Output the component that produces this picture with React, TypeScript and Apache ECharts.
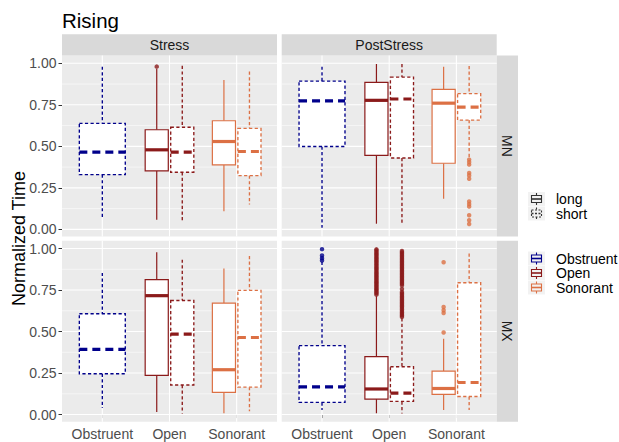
import React, { useEffect, useRef } from 'react';
import * as echarts from 'echarts';

// ---------- data ----------
const categories = ['Obstruent', 'Open', 'Sonorant'];
const lengths = ['long', 'short'];
const stressLevels = ['Stress', 'PostStress'];
const tones = ['MN', 'MX'];
const yTicks = [0, 0.25, 0.5, 0.75, 1];
const yMinorTicks = [0.125, 0.375, 0.625, 0.875];
const xTicks = [1, 2, 3];

// [lower whisker, Q1, median, Q3, upper whisker] per category; null = no box
const stressMNLong = [null, [0.058, 0.352, 0.479, 0.6, 0.965], [0.109, 0.388, 0.529, 0.654, 0.9]];
const stressMNShort = [[0.068, 0.33, 0.465, 0.638, 0.98], [0.04, 0.344, 0.465, 0.615, 0.985], [0.149, 0.324, 0.469, 0.608, 0.95]];
const postMNLong = [null, [0.034, 0.445, 0.777, 0.885, 0.996], [0.185, 0.398, 0.76, 0.843, 0.98]];
const postMNShort = [[0.01, 0.499, 0.774, 0.893, 0.98], [0.028, 0.43, 0.785, 0.917, 0.996], [0.43, 0.658, 0.736, 0.817, 0.984]];
const stressMXLong = [null, [0.016, 0.236, 0.716, 0.813, 0.978], [0.008, 0.133, 0.27, 0.671, 0.879]];
const stressMXShort = [[0.039, 0.246, 0.393, 0.607, 0.853], [0.006, 0.178, 0.484, 0.687, 0.933], [0.02, 0.165, 0.464, 0.748, 0.955]];
const postMXLong = [null, [0.008, 0.093, 0.154, 0.349, 0.713], [0.028, 0.121, 0.157, 0.262, 0.456]];
const postMXShort = [[0.027, 0.073, 0.167, 0.415, 0.92], [0.006, 0.079, 0.129, 0.288, 0.58], [0.027, 0.109, 0.193, 0.794, 0.97]];

// outliers per category
const stressMNLongOut = [[], [0.98], []];
const stressMNShortOut = [[], [], []];
const postMNLongOut = [[], [], []];
const postMNShortOut = [[], [], [0.42, 0.405, 0.39, 0.34, 0.325, 0.305, 0.168, 0.152, 0.138, 0.085, 0.055, 0.032]];
const stressMXLongOut = [[], [], []];
const stressMXShortOut = [[], [], []];
const postMXLongOut = [
  [],
  [0.722, 0.731, 0.738, 0.747, 0.755, 0.762, 0.771, 0.779, 0.788, 0.795, 0.803, 0.812, 0.82, 0.829, 0.836, 0.845,
    0.853, 0.861, 0.87, 0.878, 0.886, 0.895, 0.903, 0.911, 0.92, 0.928, 0.937, 0.945, 0.953, 0.962, 0.97, 0.979, 0.988, 0.995],
  [0.494, 0.612, 0.628, 0.648, 0.917],
];
const postMXShortOut = [
  [0.928, 0.942, 0.958, 0.996],
  [0.588, 0.597, 0.606, 0.614, 0.623, 0.632, 0.641, 0.65, 0.658, 0.667, 0.676, 0.685, 0.694, 0.703, 0.712, 0.721, 0.73, 0.738,
    0.756, 0.779, 0.788, 0.797, 0.806, 0.815, 0.824, 0.833, 0.842, 0.851, 0.86, 0.869, 0.878, 0.887, 0.896, 0.905, 0.914,
    0.923, 0.932, 0.941, 0.95, 0.959, 0.968, 0.977, 0.985],
  [],
];

// ---------- styling ----------
const FONT = '"Liberation Sans", Arial, Helvetica, sans-serif';
const catColors = ['#00008B', '#8B1A1A', '#DC7044'];
const X_MIN = 0.4;
const X_MAX = 3.6;
const Y_MIN = -0.043;
const Y_MAX = 1.047;
const colLeft = [62, 281.7];
const colWidth = 215;
const rowTop = [55.5, 240.7];
const rowHeight = 181;
const TICK_FS = 14;

const panels = [
  { col: 0, row: 0, long: stressMNLong, short: stressMNShort, longOut: stressMNLongOut, shortOut: stressMNShortOut },
  { col: 1, row: 0, long: postMNLong, short: postMNShort, longOut: postMNLongOut, shortOut: postMNShortOut },
  { col: 0, row: 1, long: stressMXLong, short: stressMXShort, longOut: stressMXLongOut, shortOut: stressMXShortOut },
  { col: 1, row: 1, long: postMXLong, short: postMXShort, longOut: postMXLongOut, shortOut: postMXShortOut },
];

function buildOption() {
  const grids: any[] = [];
  const xAxes: any[] = [];
  const yAxes: any[] = [];
  const series: any[] = [];

  panels.forEach((p, g) => {
    grids.push({
      left: colLeft[p.col], top: rowTop[p.row], width: colWidth, height: rowHeight,
      show: true, backgroundColor: '#EBEBEB', borderWidth: 0, containLabel: false,
    });
    const showX = p.row === 1;
    const showY = p.col === 0;
    xAxes.push({
      gridIndex: g, type: 'value', min: X_MIN, max: X_MAX,
      axisLine: { show: false }, splitLine: { show: false },
      axisTick: { show: showX, customValues: xTicks, length: 3.5, lineStyle: { color: '#333333', width: 1 } },
      axisLabel: {
        show: showX, customValues: xTicks, margin: 5.5, color: '#4D4D4D', fontSize: TICK_FS, fontFamily: FONT,
        formatter: (v: number) => categories[Math.round(v) - 1] || '',
      },
    });
    yAxes.push({
      gridIndex: g, type: 'value', min: Y_MIN, max: Y_MAX,
      axisLine: { show: false }, splitLine: { show: false },
      axisTick: { show: showY, customValues: yTicks, length: 3.5, lineStyle: { color: '#333333', width: 1 } },
      axisLabel: {
        show: showY, customValues: yTicks, margin: 5.5, color: '#4D4D4D', fontSize: TICK_FS, fontFamily: FONT,
        formatter: (v: number) => v.toFixed(2),
      },
    });

    // grid lines
    const gl: number[][] = [
      ...yTicks.map((v) => [0, v]),
      ...yMinorTicks.map((v) => [1, v]),
      ...xTicks.map((v) => [2, v]),
    ];
    series.push({
      type: 'custom', xAxisIndex: g, yAxisIndex: g, silent: true, z: 1, data: gl,
      renderItem: (_params: any, api: any) => {
        const kind = api.value(0);
        const v = api.value(1);
        if (kind === 2) {
          const a = api.coord([v, Y_MIN]);
          const b = api.coord([v, Y_MAX]);
          return { type: 'line', shape: { x1: a[0], y1: a[1], x2: b[0], y2: b[1] }, style: { stroke: '#FFFFFF', lineWidth: 1.1 } };
        }
        const a = api.coord([X_MIN, v]);
        const b = api.coord([X_MAX, v]);
        return {
          type: 'line', shape: { x1: a[0], y1: a[1], x2: b[0], y2: b[1] },
          style: { stroke: '#FFFFFF', lineWidth: kind === 0 ? 1.1 : 0.55 },
        };
      },
    });

    // boxes
    const boxData: any[] = [];
    const outData: any[] = [];
    categories.forEach((_c, ci) => {
      const stats = [p.long[ci], p.short[ci]];
      const outs = [p.longOut[ci], p.shortOut[ci]];
      const both = stats[0] && stats[1];
      lengths.forEach((_l, li) => {
        const s = stats[li];
        if (!s) return;
        const x = both ? ci + 1 + (li === 0 ? -0.19 : 0.19) : ci + 1;
        const hw = both ? 0.172 : 0.342;
        boxData.push([x, s[0], s[1], s[2], s[3], s[4], hw, ci, li]);
        outs[li].forEach((v) => {
          outData.push({ value: [x, v], itemStyle: { color: catColors[ci] } });
        });
      });
    });
    series.push({
      type: 'custom', xAxisIndex: g, yAxisIndex: g, silent: true, z: 2, data: boxData,
      renderItem: (_params: any, api: any) => {
        const x = api.value(0);
        const hw = api.value(6);
        const ci = api.value(7);
        const dashed = api.value(8) === 1;
        const color = catColors[ci];
        const pLo = api.coord([x, api.value(1)]);
        const pQ1 = api.coord([x, api.value(2)]);
        const pMed = api.coord([x, api.value(3)]);
        const pQ3 = api.coord([x, api.value(4)]);
        const pHi = api.coord([x, api.value(5)]);
        const left = api.coord([x - hw, 0])[0];
        const right = api.coord([x + hw, 0])[0];
        const ls: any = { stroke: color, lineWidth: dashed ? 1.35 : 1.2, fill: null };
        if (dashed) ls.lineDash = [3.2, 2.4];
        const ms: any = { stroke: color, lineWidth: 3.2 };
        if (dashed) ms.lineDash = [8, 5];
        return {
          type: 'group',
          children: [
            { type: 'line', shape: { x1: pHi[0], y1: pHi[1], x2: pQ3[0], y2: pQ3[1] }, style: ls },
            { type: 'line', shape: { x1: pQ1[0], y1: pQ1[1], x2: pLo[0], y2: pLo[1] }, style: ls },
            { type: 'rect', shape: { x: left, y: pQ3[1], width: right - left, height: pQ1[1] - pQ3[1] }, style: { ...ls, fill: '#FFFFFF' } },
            { type: 'line', shape: { x1: left, y1: pMed[1], x2: right, y2: pMed[1] }, style: ms },
          ],
        };
      },
    });
    series.push({
      type: 'scatter', xAxisIndex: g, yAxisIndex: g, silent: true, z: 3,
      symbol: 'circle', symbolSize: 4.5, data: outData,
    });
  });

  // ---------- decorations: strips, titles, legend ----------
  const graphic: any[] = [];
  stressLevels.forEach((s, i) => {
    graphic.push({ type: 'rect', shape: { x: colLeft[i], y: 34.3, width: colWidth, height: 21.2 }, style: { fill: '#D9D9D9' }, silent: true });
    graphic.push({
      type: 'text', x: colLeft[i] + colWidth / 2, y: 45,
      style: { text: s, fill: '#1A1A1A', fontSize: TICK_FS, fontFamily: FONT, align: 'center', verticalAlign: 'middle' },
    });
  });
  tones.forEach((t, i) => {
    graphic.push({ type: 'rect', shape: { x: 496.7, y: rowTop[i], width: 21.3, height: rowHeight }, style: { fill: '#D9D9D9' }, silent: true });
    graphic.push({
      type: 'text', x: 507.4, y: rowTop[i] + rowHeight / 2, rotation: -Math.PI / 2,
      style: { text: t, fill: '#1A1A1A', fontSize: TICK_FS, fontFamily: FONT, align: 'center', verticalAlign: 'middle' },
    });
  });
  graphic.push({
    type: 'text', x: 62, y: 20.5,
    style: { text: 'Rising', fill: '#000000', fontSize: 20.5, fontFamily: FONT, align: 'left', verticalAlign: 'middle' },
  });
  graphic.push({
    type: 'text', x: 18.5, y: (rowTop[0] + rowTop[1] + rowHeight) / 2, rotation: Math.PI / 2,
    style: { text: 'Normalized Time', fill: '#000000', fontSize: 18, fontFamily: FONT, align: 'center', verticalAlign: 'middle' },
  });

  const keyIcon = (cx: number, cy: number, color: string, dashed: boolean) => {
    const st: any = { stroke: color, lineWidth: 1.1, fill: null };
    if (dashed) st.lineDash = [2, 1.5];
    return [
      { type: 'rect', shape: { x: cx - 8.5, y: cy - 7, width: 17, height: 14 }, style: { fill: '#F2F2F2' }, silent: true },
      { type: 'line', shape: { x1: cx, y1: cy - 6, x2: cx, y2: cy - 3.5 }, style: st },
      { type: 'line', shape: { x1: cx, y1: cy + 3.5, x2: cx, y2: cy + 6 }, style: st },
      { type: 'rect', shape: { x: cx - 5, y: cy - 3.5, width: 10, height: 7 }, style: st },
      { type: 'line', shape: { x1: cx - 5, y1: cy, x2: cx + 5, y2: cy }, style: { ...st, lineWidth: 1.6 } },
    ];
  };
  const legendX = 536.5;
  const legendTextX = 556;
  const lenY = [199, 213.5];
  lengths.forEach((l, i) => {
    graphic.push(...keyIcon(legendX, lenY[i], '#333333', i === 1));
    graphic.push({
      type: 'text', x: legendTextX, y: lenY[i],
      style: { text: l, fill: '#000000', fontSize: TICK_FS, fontFamily: FONT, align: 'left', verticalAlign: 'middle' },
    });
  });
  const catY = [258.5, 273, 287.5];
  categories.forEach((c, i) => {
    graphic.push(...keyIcon(legendX, catY[i], catColors[i], false));
    graphic.push({
      type: 'text', x: legendTextX, y: catY[i],
      style: { text: c, fill: '#000000', fontSize: TICK_FS, fontFamily: FONT, align: 'left', verticalAlign: 'middle' },
    });
  });

  return {
    animation: false,
    backgroundColor: '#FFFFFF',
    grid: grids,
    xAxis: xAxes,
    yAxis: yAxes,
    series,
    graphic,
  };
}

export default function App() {
  const ref = useRef<HTMLDivElement>(null);
  useEffect(() => {
    document.body.style.margin = '0';
    if (!ref.current) return;
    const chart = echarts.init(ref.current, null, { renderer: 'svg' });
    chart.setOption(buildOption() as any);
    return () => chart.dispose();
  }, []);
  return <div ref={ref} style={{ width: 619, height: 442 }} />;
}
